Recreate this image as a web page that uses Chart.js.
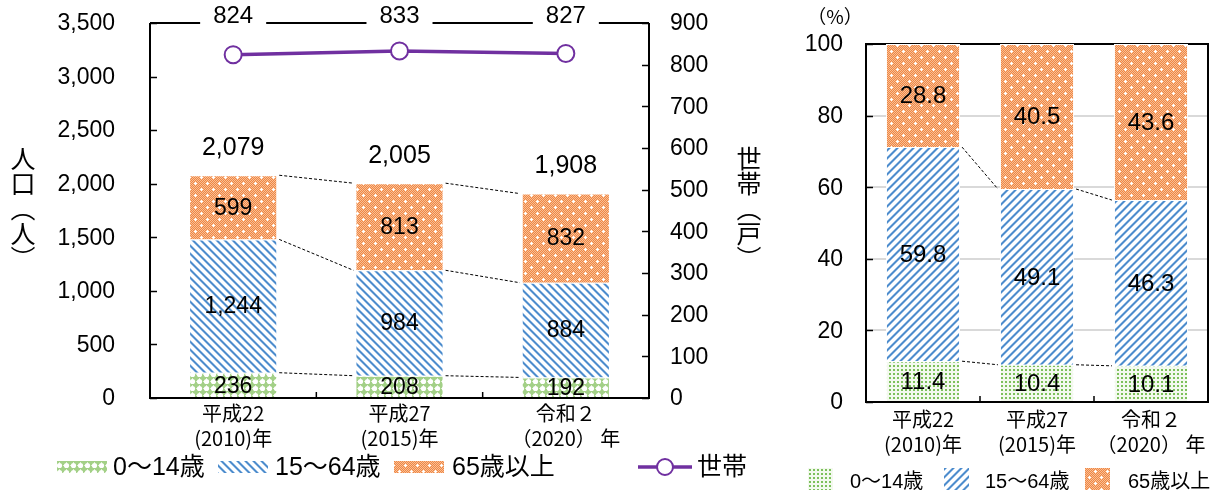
<!DOCTYPE html>
<html lang="ja">
<head>
<meta charset="utf-8">
<script src="https://cdn.jsdelivr.net/npm/chart.js@4.4.1/dist/chart.umd.min.js"></script>
<style>
body{margin:0;background:#fff;}
#wrap{position:relative;width:1218px;height:490px;overflow:hidden;font-family:'Noto Sans CJK JP',sans-serif;}
#left{position:absolute;left:0;top:0;}
#right{position:absolute;left:780px;top:0;}
.vt{position:absolute;writing-mode:vertical-rl;font-size:25px;line-height:1;color:#000;}
</style>
</head>
<body>
<div id="wrap">
  <canvas id="left" width="780" height="490"></canvas>
  <canvas id="right" width="438" height="490"></canvas>
  <div class="vt" style="left:10px;top:146px;">人口（人）</div>
  <div class="vt" style="left:736px;top:146px;">世帯（戸）</div>
</div>
<script>
// --- data ---
const categories = [['平成22', '(2010)年'], ['平成27', '(2015)年'], ['令和２', '（2020） 年']];
const age0to14 = [236, 208, 192];
const age15to64 = [1244, 984, 884];
const age65plus = [599, 813, 832];
const totals = [2079, 2005, 1908];
const households = [824, 833, 827];
const share0to14 = [11.4, 10.4, 10.1];
const share15to64 = [59.8, 49.1, 46.3];
const share65plus = [28.8, 40.5, 43.6];
const seriesNames = ['0～14歳', '15～64歳', '65歳以上', '世帯'];

const NUM = "'Liberation Sans','Noto Sans CJK JP',sans-serif";
const JP = "'Noto Sans CJK JP',sans-serif";
Chart.defaults.font.family = NUM;
Chart.defaults.color = '#000';

const fmt = v => v.toLocaleString('en-US');

// --- fill patterns ---
function makePattern(ctx, w, h, draw){
    const c = document.createElement('canvas');
    c.width = w; c.height = h;
    draw(c.getContext('2d'), w, h);
    return ctx.createPattern(c, 'repeat');
}
function px(g, x, y, col){ g.fillStyle = col; g.fillRect(x, y, 1, 1); }

function greenCross(ctx){
    return makePattern(ctx, 7, 7, (g, w, h) => {
        g.fillStyle = '#a3d087'; g.fillRect(0, 0, w, h);
        g.fillStyle = '#fff';
        g.beginPath(); g.arc(3.5, 3.5, 2.6, 0, Math.PI*2); g.fill();
        g.fillStyle = '#e2f0d8';
        g.fillRect(3, 0, 1, 1); g.fillRect(0, 3, 1, 1);
    });
}
function greenDots(ctx){
    return makePattern(ctx, 4, 4, (g, w, h) => {
        g.fillStyle = '#f3f9ee'; g.fillRect(0, 0, w, h);
        g.fillStyle = '#7cc05a'; g.fillRect(1, 1, 2, 2);
    });
}
function blueStripe(ctx, dir){
    return makePattern(ctx, 8, 8, (g, w, h) => {
        g.fillStyle = '#fff'; g.fillRect(0, 0, w, h);
        for(let y=0;y<h;y++) for(let x=0;x<w;x++){
            const d = dir>0 ? (x+y)%8 : ((x-y)%8+8)%8;
            if(d<2) px(g, x, y, '#4d8ccc');
            else if(d===2 || d===7) px(g, x, y, '#a9c9ea');
        }
    });
}
function orangeDots(ctx){
    return makePattern(ctx, 12, 12, (g, w, h) => {
        for(let y=0;y<h;y++) for(let x=0;x<w;x++)
            px(g, x, y, (x+y)%2 ? '#ef8744' : '#f9bf96');
        for(const [cx, cy] of [[3,3],[9,9]]){
            g.fillStyle = '#fff';
            g.fillRect(cx-1, cy, 3, 1); g.fillRect(cx, cy-1, 1, 3);
        }
    });
}

const lctx = document.getElementById('left').getContext('2d');
const rctx = document.getElementById('right').getContext('2d');
const lFills = [greenCross(lctx), blueStripe(lctx, -1), orangeDots(lctx)];
const rFills = [greenDots(rctx), blueStripe(rctx, 1), orangeDots(rctx)];

function dashedConnectors(chart, sets){
    const ctx = chart.ctx;
    ctx.save();
    ctx.strokeStyle = '#000'; ctx.lineWidth = 1; ctx.setLineDash([3, 2]);
    for(const d of sets){
        const els = chart.getDatasetMeta(d).data;
        for(let i=0;i<els.length-1;i++){
            const a = els[i], b = els[i+1];
            ctx.beginPath();
            ctx.moveTo(a.x + a.width/2 + 2, a.y);
            ctx.lineTo(b.x - b.width/2 - 2, b.y);
            ctx.stroke();
        }
    }
    ctx.restore();
}

function axisTicks(chart, yIds){
    const {ctx, chartArea: a, scales} = chart;
    ctx.save();
    ctx.strokeStyle = '#000'; ctx.lineWidth = 1.5;
    for(const id of yIds){
        const s = scales[id];
        const left = s.position === 'left';
        for(const t of s.ticks){
            const y = Math.round(s.getPixelForValue(t.value)) + 0.5;
            ctx.beginPath();
            ctx.moveTo(left ? a.left : a.right - 7, y);
            ctx.lineTo(left ? a.left + 7 : a.right, y);
            ctx.stroke();
        }
    }
    const xs = scales.x;
    for(let i=0;i<categories.length-1;i++){
        const x = (xs.getPixelForValue(i) + xs.getPixelForValue(i+1)) / 2;
        ctx.beginPath(); ctx.moveTo(x, a.bottom); ctx.lineTo(x, a.bottom - 6); ctx.stroke();
    }
    ctx.restore();
}

// y tick labels drawn from the scale's own ticks
function tickLabels(chart, id, gap, format){
    const {ctx, chartArea: a} = chart;
    const s = chart.scales[id];
    const left = s.position === 'left';
    ctx.save();
    ctx.font = '23px ' + NUM; ctx.fillStyle = '#000';
    ctx.textBaseline = 'middle'; ctx.textAlign = left ? 'right' : 'left';
    for(const t of s.ticks){
        ctx.fillText(format(t.value), left ? a.left - gap : a.right + gap, s.getPixelForValue(t.value) + 1);
    }
    ctx.restore();
}

function drawLegendBox(ctx, fill, x, y, w, h){
    ctx.fillStyle = fill; ctx.fillRect(x, y, w, h);
}

// --- left chart: population + households ---
const leftDeco = {
    id: 'leftDeco',
    afterDatasetsDraw(chart){
        const {ctx, chartArea: a} = chart;
        ctx.save();
        ctx.strokeStyle = '#000'; ctx.lineWidth = 2;
        ctx.beginPath();
        ctx.moveTo(a.left, a.top); ctx.lineTo(a.left, a.bottom); ctx.lineTo(a.right, a.bottom); ctx.lineTo(a.right, a.top);
        ctx.moveTo(a.left, a.top); ctx.lineTo(a.right, a.top);
        ctx.stroke();
        ctx.restore();
        axisTicks(chart, ['y', 'y1']);
        tickLabels(chart, 'y', 35, fmt);
        tickLabels(chart, 'y1', 21, fmt);
        dashedConnectors(chart, [0, 1, 2]);

        ctx.save();
        ctx.textAlign = 'center'; ctx.textBaseline = 'middle'; ctx.fillStyle = '#000';
        // values inside bars
        ctx.font = '23px ' + NUM;
        [age0to14, age15to64, age65plus].forEach((vals, d) => {
            chart.getDatasetMeta(d).data.forEach((el, i) => {
                ctx.fillText(fmt(vals[i]), el.x, (el.y + el.base) / 2 + 1);
            });
        });
        // totals above bars
        ctx.font = '25px ' + NUM;
        chart.getDatasetMeta(2).data.forEach((el, i) => {
            ctx.fillText(fmt(totals[i]), el.x, el.y - 27);
        });
        // household values on the top frame line
        ctx.font = '24px ' + NUM;
        chart.getDatasetMeta(3).data.forEach((el, i) => {
            const t = fmt(households[i]);
            const w = ctx.measureText(t).width;
            ctx.fillStyle = '#fff';
            ctx.fillRect(el.x - w/2 - 13, a.top - 4, w + 26, 8);
            ctx.fillStyle = '#000';
            ctx.fillText(t, el.x, a.top - 7);
        });

        // legend
        const ly = 461, lh = 12;
        ctx.textAlign = 'left';
        ctx.font = '25px ' + NUM;
        const items = [[57, 113], [218, 275], [394, 452]];
        items.forEach(([bx, tx], k) => {
            drawLegendBox(ctx, lFills[k], bx, ly, 50, lh);
            ctx.fillStyle = '#000';
            ctx.fillText(seriesNames[k], tx, ly + lh/2 + 1);
        });
        ctx.strokeStyle = '#7030a0'; ctx.lineWidth = 3.5;
        ctx.beginPath(); ctx.moveTo(638, ly + lh/2); ctx.lineTo(692, ly + lh/2); ctx.stroke();
        ctx.fillStyle = '#fff'; ctx.lineWidth = 2;
        ctx.beginPath(); ctx.arc(665, ly + lh/2, 8, 0, Math.PI*2); ctx.fill(); ctx.stroke();
        ctx.fillStyle = '#000';
        ctx.fillText(seriesNames[3], 697, ly + lh/2 + 1);
        ctx.restore();
    }
};

new Chart(lctx, {
    data: {
        labels: categories,
        datasets: [
            {type: 'bar', label: seriesNames[0], data: age0to14, backgroundColor: lFills[0], yAxisID: 'y', order: 1},
            {type: 'bar', label: seriesNames[1], data: age15to64, backgroundColor: lFills[1], yAxisID: 'y', order: 1},
            {type: 'bar', label: seriesNames[2], data: age65plus, backgroundColor: lFills[2], yAxisID: 'y', order: 1},
            {type: 'line', label: seriesNames[3], data: households, yAxisID: 'y1', order: 0,
             borderColor: '#7030a0', borderWidth: 3.5, pointRadius: 8.5, pointBorderWidth: 2,
             pointBackgroundColor: '#fff', pointBorderColor: '#7030a0'}
        ].map(ds => ds.type === 'bar' ? Object.assign(ds, {
            stack: 'pop', borderColor: '#fff', borderWidth: 1, barPercentage: 0.53, categoryPercentage: 1
        }) : ds)
    },
    options: {
        responsive: false, animation: false, devicePixelRatio: 1,
        layout: {autoPadding: false, padding: {top: 23, left: 0, right: 0, bottom: 0}},
        plugins: {legend: {display: false}, tooltip: {enabled: false}},
        scales: {
            x: {stacked: true, grid: {display: false, drawTicks: false}, border: {display: false},
                ticks: {font: {family: JP, size: 20, lineHeight: 1.25}, padding: 3, maxRotation: 0, autoSkip: false},
                afterFit(s){ s.height = 92; }},
            y: {stacked: true, position: 'left', min: 0, max: 3500,
                ticks: {display: false, stepSize: 500},
                grid: {display: false, drawTicks: false}, border: {display: false},
                afterFit(s){ s.width = 150; }},
            y1: {position: 'right', min: 0, max: 900,
                ticks: {display: false, stepSize: 100},
                grid: {display: false, drawTicks: false}, border: {display: false},
                afterFit(s){ s.width = 131; }}
        }
    },
    plugins: [leftDeco]
});

// --- right chart: composition (%) ---
const rightDeco = {
    id: 'rightDeco',
    beforeDatasetsDraw(chart){
        const {ctx, chartArea: a, scales} = chart;
        ctx.save();
        ctx.strokeStyle = '#d9d9d9'; ctx.lineWidth = 2;
        for(const t of scales.y.ticks){
            if(t.value === 0 || t.value === 100) continue;
            const y = Math.round(scales.y.getPixelForValue(t.value));
            ctx.beginPath(); ctx.moveTo(a.left, y); ctx.lineTo(a.right, y); ctx.stroke();
        }
        ctx.strokeStyle = '#000'; ctx.lineWidth = 2;
        ctx.beginPath();
        ctx.moveTo(a.left, a.bottom); ctx.lineTo(a.left, a.top); ctx.lineTo(a.right, a.top); ctx.lineTo(a.right, a.bottom);
        ctx.stroke();
        ctx.restore();
    },
    afterDatasetsDraw(chart){
        const {ctx, chartArea: a} = chart;
        ctx.save();
        ctx.strokeStyle = '#000'; ctx.lineWidth = 2;
        ctx.beginPath(); ctx.moveTo(a.left - 1, a.bottom); ctx.lineTo(a.right + 1, a.bottom); ctx.stroke();
        ctx.restore();
        axisTicks(chart, ['y']);
        tickLabels(chart, 'y', 23, v => String(v));
        dashedConnectors(chart, [0, 1]);

        ctx.save();
        ctx.textAlign = 'center'; ctx.textBaseline = 'middle'; ctx.fillStyle = '#000';
        ctx.font = '24px ' + NUM;
        [share0to14, share15to64, share65plus].forEach((vals, d) => {
            chart.getDatasetMeta(d).data.forEach((el, i) => {
                ctx.fillText(vals[i].toFixed(1), el.x, (el.y + el.base) / 2 + 1);
            });
        });
        ctx.font = '19px ' + JP;
        ctx.fillText('（%）', 55, 17);

        // legend
        ctx.textAlign = 'left';
        ctx.font = '20px ' + NUM;
        const ly = 468;
        [[28, 70], [164, 205], [305, 348]].forEach(([bx, tx], k) => {
            drawLegendBox(ctx, rFills[k], bx, ly, 25, 22);
            ctx.fillStyle = '#000';
            ctx.fillText(seriesNames[k], tx, ly + 14);
        });
        ctx.restore();
    }
};

new Chart(rctx, {
    type: 'bar',
    data: {
        labels: categories,
        datasets: [share0to14, share15to64, share65plus].map((vals, k) => ({
            label: seriesNames[k], data: vals, backgroundColor: rFills[k],
            borderColor: '#fff', borderWidth: 1, barPercentage: 0.65, categoryPercentage: 1
        }))
    },
    options: {
        responsive: false, animation: false, devicePixelRatio: 1,
        layout: {autoPadding: false, padding: {top: 44, left: 0, right: 10, bottom: 0}},
        plugins: {legend: {display: false}, tooltip: {enabled: false}},
        scales: {
            x: {stacked: true, grid: {display: false, drawTicks: false}, border: {display: false},
                ticks: {font: {family: JP, size: 20, lineHeight: 1.25}, padding: 5, maxRotation: 0, autoSkip: false},
                afterFit(s){ s.height = 88; }},
            y: {stacked: true, min: 0, max: 100,
                ticks: {display: false, stepSize: 20},
                grid: {display: false, drawTicks: false}, border: {display: false},
                afterFit(s){ s.width = 86; }}
        }
    },
    plugins: [rightDeco]
});
</script>
</body>
</html>
